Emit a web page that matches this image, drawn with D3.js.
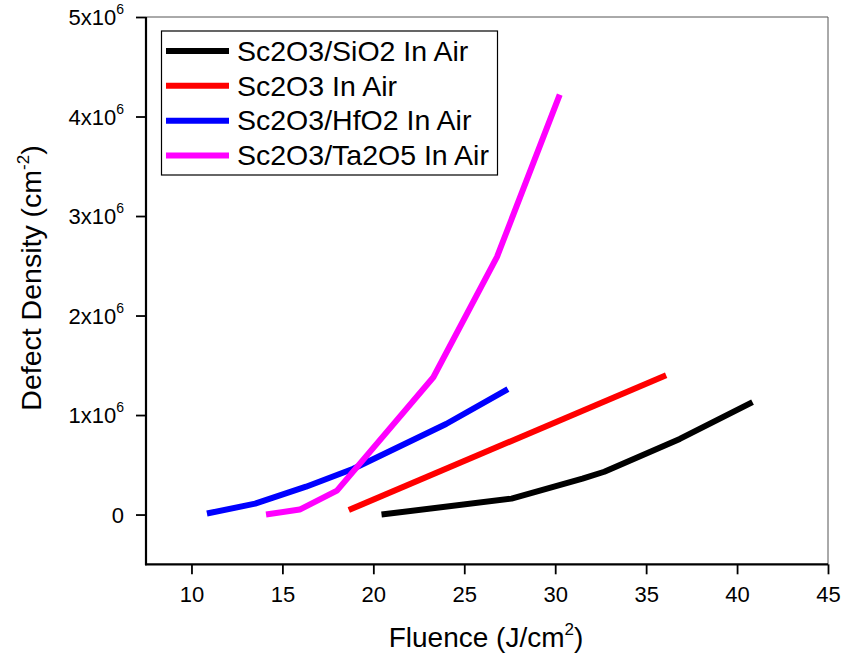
<!DOCTYPE html>
<html>
<head>
<meta charset="utf-8">
<script src="https://cdn.jsdelivr.net/npm/d3@7"></script>
<style>
  html, body { margin: 0; padding: 0; background: #fff; }
  svg { display: block; font-family: "Liberation Sans", Arial, Helvetica, sans-serif; }
</style>
</head>
<body>
<svg id="chart" width="843" height="660"></svg>
<script>
// Fluence (J/cm^2) vs defect density (cm^-2) for each coating, measured in air
const seriesNames = ["Sc2O3/SiO2 In Air", "Sc2O3 In Air", "Sc2O3/HfO2 In Air", "Sc2O3/Ta2O5 In Air"];
const seriesColors = ["#000000", "#ff0000", "#0000ff", "#ff00ff"];

const sio2Fluence = [20.45, 27.6, 31.5, 32.7, 36.85, 40.85];
const sio2Density = [0, 0.16e6, 0.36e6, 0.43e6, 0.76e6, 1.13e6];

const bareFluence = [18.65, 36.1];
const bareDensity = [0.045e6, 1.40e6];

const hfo2Fluence = [10.85, 13.5, 16.3, 18.9, 24.0, 27.4];
const hfo2Density = [0.01e6, 0.11e6, 0.28e6, 0.46e6, 0.91e6, 1.26e6];

const ta2o5Fluence = [14.1, 15.95, 18.0, 23.3, 26.8, 30.25];
const ta2o5Density = [0, 0.05e6, 0.24e6, 1.38e6, 2.59e6, 4.22e6];

const xTicks = [10, 15, 20, 25, 30, 35, 40, 45];
const xMinorTicks = [7.5, 12.5, 17.5, 22.5, 27.5, 32.5, 37.5, 42.5];
const yTicks = [0, 1e6, 2e6, 3e6, 4e6, 5e6];
const yTickMantissa = ["0", "1", "2", "3", "4", "5"];
const yMinorTicks = [-0.5e6, 0.5e6, 1.5e6, 2.5e6, 3.5e6, 4.5e6];

const xs = [sio2Fluence, bareFluence, hfo2Fluence, ta2o5Fluence];
const ys = [sio2Density, bareDensity, hfo2Density, ta2o5Density];
const series = seriesNames.map((name, i) => ({
  name,
  color: seriesColors[i],
  points: xs[i].map((x, j) => ({ x, y: ys[i][j] }))
}));

const svg = d3.select("#chart");
const plotLeft = 146, plotRight = 828, plotTop = 17, plotBottom = 564.3;

const x = d3.scaleLinear().domain([7.5, 45]).range([plotLeft, plotRight]);
const y = d3.scaleLinear().domain([-0.5e6, 5e6]).range([plotBottom, plotTop]);

// frame: thin top/right edges
svg.append("line").attr("x1", plotLeft).attr("x2", plotRight).attr("y1", plotTop).attr("y2", plotTop)
  .attr("stroke", "#555").attr("stroke-width", 1);
svg.append("line").attr("x1", plotRight).attr("x2", plotRight).attr("y1", plotTop).attr("y2", plotBottom)
  .attr("stroke", "#555").attr("stroke-width", 1);

// data lines
const line = d3.line().x(d => x(d.x)).y(d => y(d.y));
svg.append("g").selectAll("path").data(series).join("path")
  .attr("d", d => line(d.points))
  .attr("fill", "none")
  .attr("stroke", d => d.color)
  .attr("stroke-width", 6)
  .attr("stroke-linejoin", "bevel");

// x axis
const xAxis = svg.append("g").attr("transform", `translate(0,${plotBottom})`);
xAxis.call(d3.axisBottom(x).tickValues(xMinorTicks).tickSize(5).tickFormat(""));
xAxis.call(d3.axisBottom(x).tickValues(xTicks).tickSize(10).tickPadding(12).tickFormat(d3.format("d")));
xAxis.selectAll(".domain").attr("stroke-width", 2.2).attr("d", `M${plotLeft - 1},0H${plotRight}`);
xAxis.selectAll(".tick line").attr("stroke-width", 1.8);
xAxis.selectAll(".tick text").attr("font-size", 22).attr("fill", "#000")
  .attr("font-family", "Liberation Sans, Arial, sans-serif");

// y axis
const yAxis = svg.append("g").attr("transform", `translate(${plotLeft},0)`);
yAxis.call(d3.axisLeft(y).tickValues(yMinorTicks).tickSize(5).tickFormat(""));
yAxis.call(d3.axisLeft(y).tickValues(yTicks).tickSize(10).tickPadding(10).tickFormat(""));
yAxis.selectAll(".domain").attr("stroke-width", 2.2).attr("d", `M0,${plotTop}V${plotBottom + 1}`);
yAxis.selectAll(".tick line").attr("stroke-width", 1.8);

// y tick labels with exponent
const yLab = svg.append("g").attr("font-size", 22).attr("fill", "#000");
yTicks.forEach((v, i) => {
  const t = yLab.append("text").attr("x", 124).attr("y", y(v) + 8).attr("text-anchor", "end");
  if (v === 0) {
    t.text(yTickMantissa[i]);
  } else {
    t.append("tspan").text(yTickMantissa[i] + "x10");
    t.append("tspan").attr("dy", -11).attr("font-size", 14).text("6");
  }
});

// axis titles
const xt = svg.append("text").attr("x", 486).attr("y", 646.5).attr("text-anchor", "middle")
  .attr("font-size", 28).attr("fill", "#000");
xt.append("tspan").text("Fluence (J/cm");
xt.append("tspan").attr("dy", -12).attr("font-size", 17).text("2");
xt.append("tspan").attr("dy", 12).text(")");

const yt = svg.append("text").attr("transform", "translate(41,278) rotate(-90)")
  .attr("text-anchor", "middle").attr("font-size", 28.5).attr("fill", "#000");
yt.append("tspan").text("Defect Density (cm");
yt.append("tspan").attr("dy", -12).attr("font-size", 17).text("-2");
yt.append("tspan").attr("dy", 12).text(")");

// legend
const lg = svg.append("g");
lg.append("rect").attr("x", 161.5).attr("y", 31).attr("width", 336).attr("height", 144)
  .attr("fill", "#fff").attr("stroke", "#000").attr("stroke-width", 1.2);
const rowY = d3.scalePoint().domain(seriesNames).range([51, 155.5]);
const rows = lg.selectAll("g.row").data(series).join("g").attr("class", "row")
  .attr("transform", d => `translate(0,${rowY(d.name)})`);
rows.append("line").attr("x1", 166).attr("x2", 229).attr("y1", 0).attr("y2", 0)
  .attr("stroke", d => d.color).attr("stroke-width", 6);
rows.append("text").attr("x", 237).attr("y", 9.8).attr("font-size", 28.5).attr("fill", "#000")
  .text(d => d.name);
</script>
</body>
</html>
